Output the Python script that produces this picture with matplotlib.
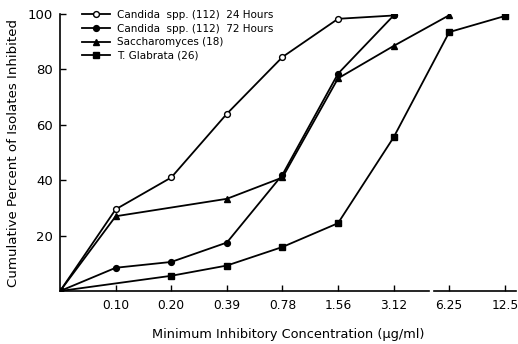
import matplotlib
matplotlib.use("Agg")
import matplotlib.pyplot as plt

# x categories (MIC, ug/ml); position 0 is the origin
conc_labels = ["0.10", "0.20", "0.39", "0.78", "1.56", "3.12", "6.25", "12.5"]

# series: category index (0 = origin) and cumulative percent
cand24_x = [0, 1, 2, 3, 4, 5, 6]
cand24_y = [0, 29.5, 41, 64, 84.5, 98.3, 99.5]

cand72_x = [0, 1, 2, 3, 4, 5, 6]
cand72_y = [0, 8.4, 10.5, 17.5, 42, 78.5, 99.5]

sacch_x = [0, 1, 3, 4, 5, 6, 7]
sacch_y = [0, 27, 33.3, 41, 76.8, 88.5, 99.6]

glab_x = [0, 2, 3, 4, 5, 6, 7, 8]
glab_y = [0, 5.5, 9.2, 15.9, 24.5, 55.5, 93.5, 99.3]

fig = plt.figure(figsize=(5.18, 3.44), dpi=100)
ax = fig.add_axes([0.116, 0.154, 0.88, 0.805])

kw = dict(color="black", lw=1.3, markersize=4.2)
ax.plot(cand24_x, cand24_y, "o-", mfc="white", mew=1.0,
        label="Candida  spp. (112)  24 Hours", **kw)
ax.plot(cand72_x, cand72_y, "o-", label="Candida  spp. (112)  72 Hours", **kw)
ax.plot(sacch_x, sacch_y, "^-", label="Saccharomyces (18)", **kw)
ax.plot(glab_x, glab_y, "s-", label="T. Glabrata (26)", **kw)

ax.set_xlim(0, 8.2)
ax.set_ylim(0, 100)
ax.set_xticks(range(1, len(conc_labels) + 1))
ax.set_xticklabels(conc_labels)
ax.set_yticks([20, 40, 60, 80, 100])
ax.tick_params(direction="in", length=4, width=1.0, labelsize=9.5)
ax.tick_params(axis="x", pad=6, labelsize=8.8)
ax.tick_params(axis="y", pad=5)

ax.spines["top"].set_visible(False)
ax.spines["right"].set_visible(False)
ax.spines["left"].set_linewidth(1.2)
ax.spines["bottom"].set_linewidth(1.2)
# broken bottom axis between 3.12 and 6.25
ax.spines["bottom"].set_bounds(0, 6.64)
ax.plot([6.72, 8.2], [0, 0], color="black", lw=1.2, clip_on=False)

ax.set_xlabel("Minimum Inhibitory Concentration (\u00b5g/ml)", fontsize=9.3, labelpad=11)
ax.set_ylabel("Cumulative Percent of Isolates Inhibited", fontsize=9.6, labelpad=6)

ax.legend(loc="upper left", bbox_to_anchor=(0.04, 1.03), frameon=False,
          fontsize=7.5, handlelength=2.6, handletextpad=0.7, labelspacing=0.35,
          borderaxespad=0)

fig.savefig("out.png", dpi=100)
